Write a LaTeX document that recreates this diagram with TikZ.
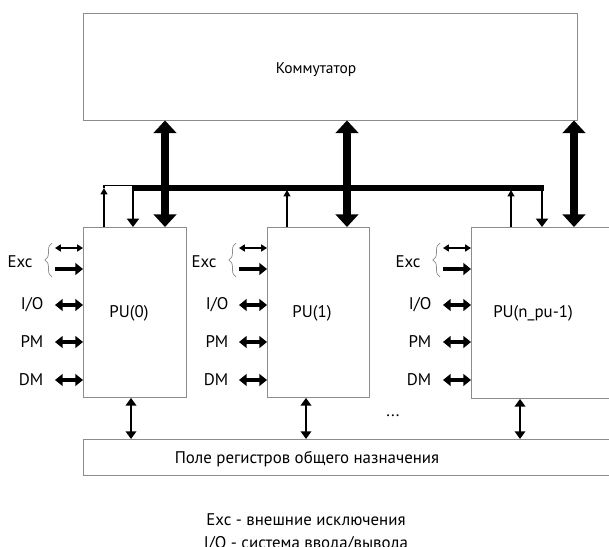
\documentclass[tikz,border=0pt]{standalone}
\usepackage{fontspec}
\setmainfont{PT Sans}
\usetikzlibrary{arrows.meta,calc,decorations.pathreplacing}

\tikzset{
  box/.style={draw=black!45, line width=0.6pt, inner sep=0pt},
  lbl/.style={font=\fontsize{12}{14}\selectfont, inner sep=1pt},
  bigarrow/.style={line width=5.6pt, {Triangle[length=9pt,width=16pt]}-{Triangle[length=9pt,width=16pt]}},
  widearrow/.style={line width=3pt, {Triangle[length=5.5pt,width=8.5pt]}-{Triangle[length=5.5pt,width=8.5pt]}},
  wideone/.style={line width=3pt, -{Triangle[length=5.5pt,width=8.5pt]}},
  slimarrow/.style={line width=1.2pt, {Triangle[length=4.2pt,width=5pt]}-{Triangle[length=4.2pt,width=5pt]}},
  upline/.style={line width=1.2pt, -{Triangle[length=4.5pt,width=4.8pt]}},
  regarrow/.style={line width=2.1pt, {Triangle[length=5.5pt,width=7.5pt]}-{Triangle[length=5.5pt,width=7.5pt]}},
  busdown/.style={line width=2pt, -{Triangle[length=6pt,width=8.5pt]}},
  busline/.style={line width=4pt},
  excbrace/.style={draw=black!45, line width=0.5pt, decorate, decoration={brace, amplitude=5pt}}
}

\begin{document}
\begin{tikzpicture}[x=0.025cm, y=-0.025cm]
		%%%%% START %%%%%
		\useasboundingbox (0,0) rectangle (609,546);
		
		\node[box, minimum width=12.35cm, minimum height=2.675cm] (sw) at (330,66.5) {};
		\node[lbl, font=\fontsize{11}{13}\selectfont] (swtext) at (316,70) {Коммутатор};
		
		\node[box, anchor=north west, minimum width=2.575cm, minimum height=4.25cm] (pu0) at (83,227) {};
		\node[box, anchor=north west, minimum width=2.55cm, minimum height=4.25cm] (pu1) at (267,227) {};
		\node[box, anchor=north west, minimum width=3.75cm, minimum height=4.275cm] (pun) at (471,227) {};
		\node[lbl] (pu0text) at (129,313) {PU(0)};
		\node[lbl] (pu1text) at (312,313) {PU(1)};
		\node[lbl] (puntext) at (533,313) {PU(n\_pu-1)};
		
		\node[box, anchor=north west, minimum width=13.5cm, minimum height=0.9cm] (reg) at (83,439) {};
		\node[lbl] (regtext) at (307,459) {Поле регистров общего назначения};
		
		% switch <-> units
		\draw[bigarrow] (165,0 |- sw.south) -- (165,0 |- pu0.north);
		\draw[bigarrow] (347,0 |- sw.south) -- (347,0 |- pu1.north);
		\draw[bigarrow] (574,0 |- sw.south) -- (574,0 |- pun.north);
		
		% common bus
		\coordinate (busL) at (133,188);
		\coordinate (busR) at (544,188);
		\draw[busline] (busL) -- (busR);
		\draw[busdown] (133,186) -- (133,0 |- pu0.north);
		\draw[busdown] (542,186) -- (542,0 |- pun.north);
		\draw[line width=1.2pt] (104,188) -- (104,185.5) -- (134,185.5);
		\draw[upline] (104,0 |- pu0.north) -- (104,188);
		\draw[upline] (287,0 |- pu1.north) -- (287,190);
		\draw[upline] (511,0 |- pun.north) -- (511,190);
		
		% PU(0) inputs
		\node[lbl] (exc0) at (20,262) {Exc};
		\draw[excbrace] (52,277) -- (52,243);
		\draw[slimarrow] (55,248) -- (pu0.west |- 0,248);
		\draw[wideone] (55,269) -- (pu0.west |- 0,269);
		\node[lbl, anchor=east] (io0) at (45,305) {I/O};
		\node[lbl, anchor=east] (pm0) at (45,342) {PM};
		\node[lbl, anchor=east] (dm0) at (45,380) {DM};
		\draw[widearrow] (55,305) -- (pu0.west |- 0,305);
		\draw[widearrow] (55,342) -- (pu0.west |- 0,342);
		\draw[widearrow] (55,380) -- (pu0.west |- 0,380);
		
		% PU(1) inputs
		\node[lbl] (exc1) at (204,262) {Exc};
		\draw[excbrace] (236,277) -- (236,243);
		\draw[slimarrow] (239,248) -- (pu1.west |- 0,248);
		\draw[wideone] (239,269) -- (pu1.west |- 0,269);
		\node[lbl, anchor=east] (io1) at (230,305) {I/O};
		\node[lbl, anchor=east] (pm1) at (230,342) {PM};
		\node[lbl, anchor=east] (dm1) at (230,380) {DM};
		\draw[widearrow] (239,305) -- (pu1.west |- 0,305);
		\draw[widearrow] (239,342) -- (pu1.west |- 0,342);
		\draw[widearrow] (239,380) -- (pu1.west |- 0,380);
		
		% PU(n_pu-1) inputs
		\node[lbl] (excn) at (408,262) {Exc};
		\draw[excbrace] (440,277) -- (440,243);
		\draw[slimarrow] (443,248) -- (pun.west |- 0,248);
		\draw[wideone] (443,269) -- (pun.west |- 0,269);
		\node[lbl, anchor=east] (ion) at (433,305) {I/O};
		\node[lbl, anchor=east] (pmn) at (433,342) {PM};
		\node[lbl, anchor=east] (dmn) at (433,380) {DM};
		\draw[widearrow] (443,305) -- (pun.west |- 0,305);
		\draw[widearrow] (443,342) -- (pun.west |- 0,342);
		\draw[widearrow] (443,380) -- (pun.west |- 0,380);
		\node[lbl] (dots) at (393,416) {...};
		
		% units <-> registers
		\draw[regarrow] (131,0 |- pu0.south) -- (131,0 |- reg.north);
		\draw[regarrow] (306,0 |- pu1.south) -- (306,0 |- reg.north);
		\draw[regarrow] (520,0 |- pun.south) -- (520,0 |- reg.north);
		
		\node[lbl] (legend1) at (306,520) {Exc - внешние исключения};
		\node[lbl] (legend2) at (306,544) {I/O - система ввода/вывода};
		%%%%% END %%%%%
	\end{tikzpicture}
\end{document}
